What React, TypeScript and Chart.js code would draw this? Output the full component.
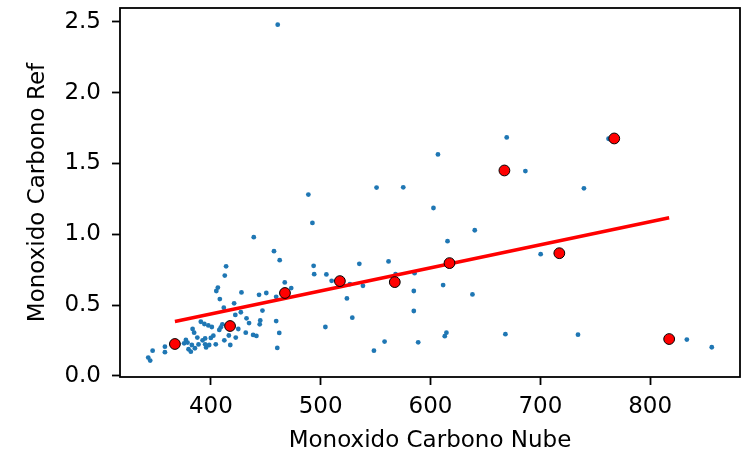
import { useEffect, useRef } from 'react';
import { Chart, registerables } from 'chart.js';

Chart.register(...registerables);

// Monoxido Carbono Nube (x) vs Monoxido Carbono Ref (y), raw observations
const nubeX = [
  460.9, 606.8, 669.4, 762.1, 686.4, 739.7, 550.9, 575.2, 602.7, 640.3,
  615.5, 488.8, 492.5, 439.1, 457.5, 462.7, 493.6, 494.1, 413.9, 412.7,
  505.2, 535.2, 561.8, 568.2, 585.5, 510.0, 526.6, 538.5, 467.3, 473.2,
  523.9, 584.8, 611.5, 638.2, 700.3, 528.8, 504.3, 584.8, 614.5, 613.0,
  558.2, 548.5, 588.8, 668.2, 734.3, 833.4, 856.1, 459.5, 462.3, 460.5,
  406.4, 405.0, 427.9, 443.9, 450.5, 408.2, 459.5, 421.2, 411.8, 447.0,
  427.3, 422.3, 432.5, 434.8, 445.0, 444.5, 390.9, 394.1, 397.7, 400.9,
  410.5, 409.1, 407.7, 425.0, 431.8, 438.5, 441.5, 402.3, 400.0, 394.8,
  392.5, 416.4, 422.7, 412.3, 417.7, 404.5, 398.5, 394.8, 395.7, 387.7,
  388.8, 383.4, 384.8, 377.3, 378.8, 375.7, 382.7, 385.5, 379.7, 381.8,
  358.2, 358.2, 347.0, 343.0, 344.8,
];
const refY = [
  2.479, 1.563, 1.683, 1.674, 1.446, 1.324, 1.329, 1.331, 1.185, 1.028,
  0.951, 1.280, 1.080, 0.979, 0.880, 0.817, 0.777, 0.718, 0.773, 0.708,
  0.716, 0.791, 0.808, 0.718, 0.725, 0.671, 0.648, 0.636, 0.660, 0.620,
  0.547, 0.599, 0.641, 0.575, 0.859, 0.411, 0.345, 0.458, 0.305, 0.280,
  0.242, 0.178, 0.237, 0.294, 0.291, 0.256, 0.202, 0.387, 0.303, 0.197,
  0.623, 0.599, 0.589, 0.572, 0.585, 0.542, 0.558, 0.512, 0.481, 0.461,
  0.449, 0.430, 0.406, 0.373, 0.391, 0.364, 0.382, 0.366, 0.356, 0.345,
  0.364, 0.343, 0.324, 0.331, 0.305, 0.289, 0.282, 0.284, 0.268, 0.264,
  0.251, 0.285, 0.270, 0.251, 0.218, 0.223, 0.218, 0.223, 0.201, 0.270,
  0.222, 0.331, 0.305, 0.254, 0.235, 0.230, 0.218, 0.195, 0.188, 0.171,
  0.206, 0.167, 0.178, 0.129, 0.108,
];

// Binned means (red markers)
const binX = [367.3, 417.5, 467.5, 517.5, 567.5, 617.3, 667.3, 717.3, 767.3, 817.3];
const binY = [0.225, 0.352, 0.585, 0.669, 0.662, 0.796, 1.45, 0.866, 1.676, 0.26];

// Fitted regression line end points
const fitX = [367.3, 817.3];
const fitY = [0.384, 1.116];

const xTicks = [400, 500, 600, 700, 800];
const yTicks = [0, 0.5, 1.0, 1.5, 2.0, 2.5];

const FONT = { family: '"DejaVu Sans", sans-serif', size: 23 };

const spinesPlugin = {
  id: 'spines',
  afterDatasetsDraw(chart: any) {
    const { ctx, chartArea } = chart;
    const { left, top, right, bottom } = chartArea;
    ctx.save();
    ctx.strokeStyle = '#000';
    ctx.lineWidth = 1.8;
    ctx.strokeRect(left, top, right - left, bottom - top);
    ctx.restore();
  },
};

export default function App() {
  const ref = useRef<HTMLCanvasElement | null>(null);

  useEffect(() => {
    if (!ref.current) return;
    const chart = new Chart(ref.current, {
      type: 'scatter',
      data: {
        datasets: [
          {
            label: 'obs',
            data: nubeX.map((x, i) => ({ x, y: refY[i] })),
            backgroundColor: '#1f77b4',
            borderWidth: 0,
            pointRadius: 2.4,
            order: 3,
          },
          {
            label: 'fit',
            type: 'line',
            data: fitX.map((x, i) => ({ x, y: fitY[i] })),
            borderColor: '#ff0000',
            borderWidth: 3.4,
            pointRadius: 0,
            fill: false,
            order: 2,
          } as any,
          {
            label: 'bins',
            data: binX.map((x, i) => ({ x, y: binY[i] })),
            backgroundColor: '#ff0000',
            borderColor: '#000',
            borderWidth: 1,
            pointRadius: 5.4,
            order: 1,
          },
        ],
      },
      options: {
        animation: false,
        responsive: false,
        maintainAspectRatio: false,
        layout: { padding: { left: 0, right: 10, top: 8, bottom: 0 } },
        plugins: { legend: { display: false }, tooltip: { enabled: false } },
        scales: {
          x: {
            type: 'linear',
            min: 317.3,
            max: 881.8,
            afterBuildTicks: (s: any) => {
              s.ticks = xTicks.map((v) => ({ value: v }));
            },
            afterFit: (s: any) => {
              s.height = 79;
              s.paddingLeft = 0;
              s.paddingRight = 0;
            },
            grid: {
              display: true,
              drawOnChartArea: false,
              drawTicks: true,
              tickLength: 8,
              tickWidth: 1.8,
              tickColor: '#000',
            },
            border: { display: false },
            ticks: {
              color: '#000',
              font: FONT,
              padding: 8,
              maxRotation: 0,
              callback: (v: any) => String(v),
            },
            title: {
              display: true,
              text: 'Monoxido Carbono Nube',
              color: '#000',
              font: { ...FONT, lineHeight: 1.2 },
              padding: { top: 0, bottom: 1 },
            },
          },
          y: {
            type: 'linear',
            min: -0.008,
            max: 2.597,
            afterBuildTicks: (s: any) => {
              s.ticks = yTicks.map((v) => ({ value: v }));
            },
            afterFit: (s: any) => {
              s.width = 120;
              s.paddingTop = 0;
              s.paddingBottom = 0;
            },
            grid: {
              display: true,
              drawOnChartArea: false,
              drawTicks: true,
              tickLength: 8,
              tickWidth: 1.8,
              tickColor: '#000',
            },
            border: { display: false },
            ticks: {
              color: '#000',
              font: FONT,
              padding: 11,
              callback: (v: any) => Number(v).toFixed(1),
            },
            title: {
              display: true,
              text: 'Monoxido Carbono Ref',
              color: '#000',
              font: { ...FONT, lineHeight: 1.2 },
              padding: { top: 24, bottom: 0 },
            },
          },
        },
      },
      plugins: [spinesPlugin],
    });
    return () => chart.destroy();
  }, []);

  return (
    <div style={{ position: 'fixed', left: 0, top: 0, width: 750, height: 456, background: '#fff' }}>
      <canvas ref={ref} width={750} height={456} style={{ width: 750, height: 456, display: 'block' }} />
    </div>
  );
}
